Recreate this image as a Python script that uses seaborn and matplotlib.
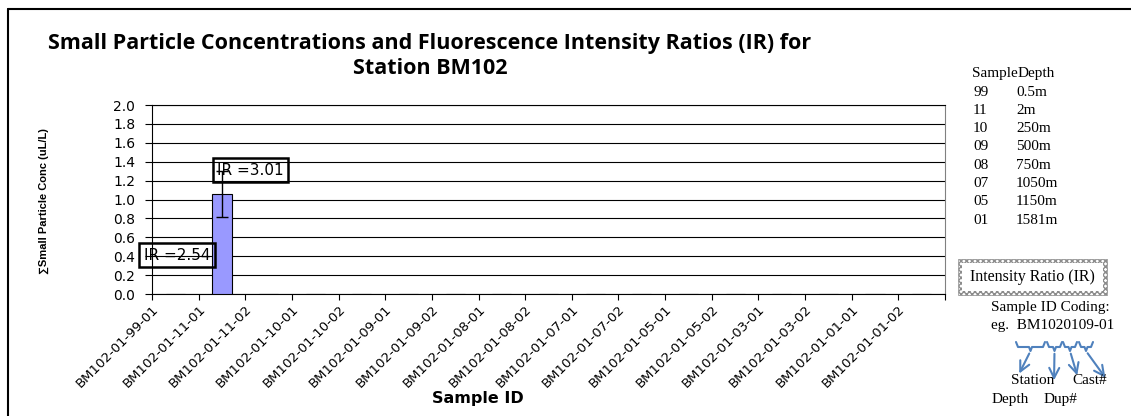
import numpy as np
import pandas as pd
import seaborn as sns
import matplotlib.pyplot as plt
from matplotlib.patches import Rectangle, FancyArrowPatch
from matplotlib.lines import Line2D

samples = ['BM102-01-99-01', 'BM102-01-11-01', 'BM102-01-11-02', 'BM102-01-10-01',
           'BM102-01-10-02', 'BM102-01-09-01', 'BM102-01-09-02', 'BM102-01-08-01',
           'BM102-01-08-02', 'BM102-01-07-01', 'BM102-01-07-02', 'BM102-01-05-01',
           'BM102-01-05-02', 'BM102-01-03-01', 'BM102-01-03-02', 'BM102-01-01-01',
           'BM102-01-01-02']
conc = [0, 1.06, 0, 0, 0, 0, 0, 0, 0, 0, 0, 0, 0, 0, 0, 0, 0]
conc_err = [0, 0.245, 0, 0, 0, 0, 0, 0, 0, 0, 0, 0, 0, 0, 0, 0, 0]
ir_labels = ['IR =2.54', 'IR =3.01']
depth_codes = ['99', '11', '10', '09', '08', '07', '05', '01']
depths = ['0.5m', '2m', '250m', '500m', '750m', '1050m', '1150m', '1581m']

W, H = 1131, 416
def px(x, y):
    return (x / W, 1 - y / H)

sns.set_style("white")
plt.rcParams['font.family'] = ['DejaVu Sans']
plt.rcParams.update({'text.color': 'black', 'axes.labelcolor': 'black',
                     'xtick.color': 'black', 'ytick.color': 'black'})

fig = plt.figure(figsize=(11.31, 4.16), dpi=100)
ax = fig.add_axes([152 / W, 1 - 294 / H, (945 - 152) / W, (294 - 105) / H])

df = pd.DataFrame({'sample': samples, 'conc': conc})
sns.barplot(data=df, x='sample', y='conc', color='#9999FF', saturation=1, width=0.41,
            edgecolor='black', linewidth=0.8, errorbar=None, ax=ax, zorder=3)

x = np.arange(len(samples))
err = np.array(conc_err)
m = err > 0
ax.errorbar(x[m], np.array(conc)[m], yerr=err[m], fmt='none', ecolor='black',
            elinewidth=1, capsize=4.5, capthick=1, zorder=7)

ax.set_ylim(0, 2.0)
yt = np.round(np.arange(0, 2.01, 0.2), 1)
ax.set_yticks(yt)
ax.set_yticklabels([f'{v:.1f}' for v in yt])
ax.yaxis.grid(True, color='black', lw=0.8)
ax.set_axisbelow(True)

ax.set_xlim(-0.5, len(samples) - 0.5)
ax.set_xticks(np.arange(len(samples) + 1) - 0.5)
ax.set_xticklabels(samples + [''], rotation=45, ha='right', rotation_mode='anchor', fontsize=9.5)
ax.tick_params(axis='x', length=4, width=0.8, pad=2, direction='out', bottom=True, colors='black')
ax.tick_params(axis='y', length=5, width=0.8, pad=7, labelsize=10, direction='out', left=True, colors='black')
ax.set_xlabel('')
ax.set_ylabel('')
for s in ['left', 'bottom', 'top']:
    ax.spines[s].set_color('black')
    ax.spines[s].set_linewidth(0.8)
ax.spines['right'].set_color('#808080')

# IR annotation boxes
ax.text(0.04, 0.41, ir_labels[0], ha='center', va='center', fontsize=11, clip_on=False, zorder=6,
        bbox=dict(boxstyle='square,pad=0.3', fc='none', ec='black', lw=1.8))
ax.text(1.61, 1.31, ir_labels[1], ha='center', va='center', fontsize=11, clip_on=False, zorder=6,
        bbox=dict(boxstyle='square,pad=0.3', fc='none', ec='black', lw=1.8))

# titles and axis labels
fig.text(*px(430, 56), 'Small Particle Concentrations and Fluorescence Intensity Ratios (IR) for\nStation BM102',
         ha='center', va='center', fontsize=15.5, fontweight='bold', family='Open Sans', linespacing=1.25)
fig.text(*px(478, 398), 'Sample ID', ha='center', va='center', fontsize=11.5, fontweight='bold')
fig.text(*px(44, 201), '∑Small Particle Conc (uL/L)', rotation=90, ha='center', va='center',
         fontsize=8, fontweight='bold', family=['Liberation Sans', 'DejaVu Sans'])

# depth table
serif = 'Liberation Serif'
fig.text(*px(972, 73), 'Sample', family=serif, fontsize=11, va='center')
fig.text(*px(1018, 73), 'Depth', family=serif, fontsize=11, va='center')
for i, (c, d) in enumerate(zip(depth_codes, depths)):
    fig.text(*px(973, 92 + i * 18.3), c, family=serif, fontsize=11, va='center')
    fig.text(*px(1016, 92 + i * 18.3), d, family=serif, fontsize=11, va='center')

# legend box for IR
fig.add_artist(Rectangle(px(958, 295), 149 / W, 36 / H, transform=fig.transFigure,
                         fc='white', ec='#8c8c8c', hatch='xxxxxx', lw=0.5))
fig.add_artist(Rectangle(px(962, 291), 141 / W, 28 / H, transform=fig.transFigure,
                         fc='white', ec='none'))
fig.text(*px(1032, 277), 'Intensity Ratio (IR)', family=serif, fontsize=11.5, ha='center', va='center')

fig.text(*px(991, 308), 'Sample ID Coding:', family=serif, fontsize=11, va='center')
fig.text(*px(991, 325), 'eg.  BM1020109-01', family=serif, fontsize=11, va='center')

blue = '#4F81BD'
targets = [(1018, 376), (1054, 383), (1078, 378), (1107, 380)]
for (x0, x1), tgt in zip([(1016, 1045), (1047, 1062), (1063, 1077), (1079, 1093)], targets):
    xm = (x0 + x1) / 2
    pts = [(x0, 342), (x0 + 2, 347), (xm - 1.5, 347), (xm, 351), (xm + 1.5, 347), (x1 - 2, 347), (x1, 342)]
    fx, fy = zip(*[px(a, b) for a, b in pts])
    fig.add_artist(Line2D(fx, fy, color=blue, lw=1.5, transform=fig.transFigure))
    fig.add_artist(FancyArrowPatch(px(xm, 351), px(*tgt), transform=fig.transFigure,
                                   arrowstyle='->', mutation_scale=18, lw=1.5, color=blue))

fig.text(*px(1033, 380), 'Station', family=serif, fontsize=11, ha='center', va='center')
fig.text(*px(1090, 380), 'Cast#', family=serif, fontsize=11, ha='center', va='center')
fig.text(*px(1010, 399), 'Depth', family=serif, fontsize=11, ha='center', va='center')
fig.text(*px(1060, 399), 'Dup#', family=serif, fontsize=11, ha='center', va='center')

# chart border (cropped at right and bottom)
fig.add_artist(Line2D([8 / W, 8 / W], [1 - 9 / H, 0], color='black', lw=1.5, transform=fig.transFigure))
fig.add_artist(Line2D([8 / W, 1], [1 - 9 / H, 1 - 9 / H], color='black', lw=1.5, transform=fig.transFigure))

fig.savefig('out.png', dpi=100)
